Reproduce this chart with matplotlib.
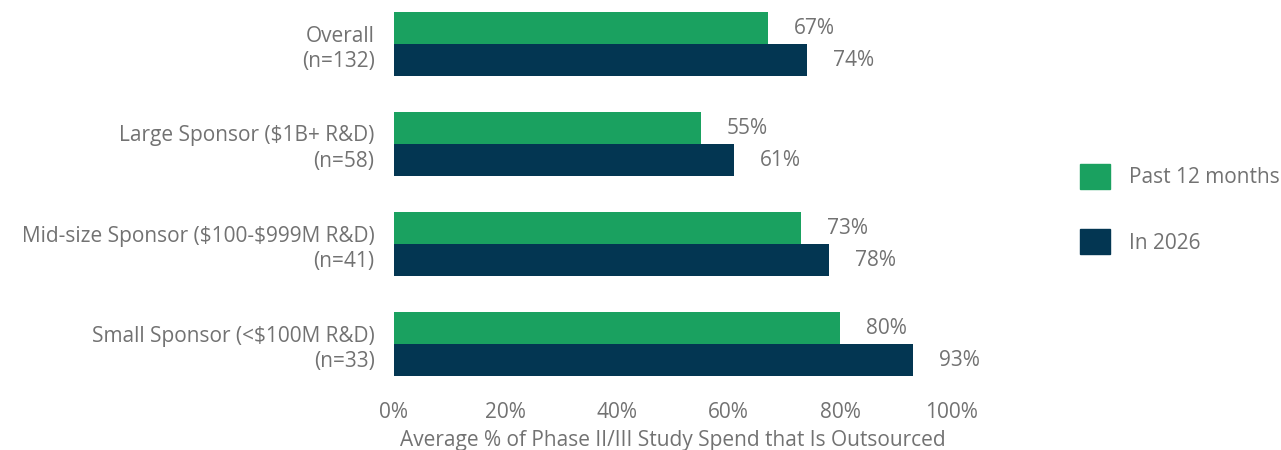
import numpy as np
import matplotlib.pyplot as plt
from matplotlib.patches import Patch

plt.rcParams['font.family'] = ['Open Sans', 'DejaVu Sans']
plt.rcParams['text.parse_math'] = False

categories = ["Overall\n(n=132)",
              "Large Sponsor ($1B+ R&D)\n(n=58)",
              "Mid-size Sponsor ($100-$999M R&D)\n(n=41)",
              "Small Sponsor (<$100M R&D)\n(n=33)"]
past_12 = [67, 55, 73, 80]
in_2026 = [74, 61, 78, 93]
series_names = ["Past 12 months", "In 2026"]
xticks = [0, 20, 40, 60, 80, 100]

green = "#1aa160"
navy = "#033652"
grey = "#727272"
fs = 15

fig = plt.figure(figsize=(12.81, 4.5), dpi=100)
ax = fig.add_axes([394 / 1281, 60 / 450, 558 / 1281, 390 / 450])

y = np.arange(len(categories))
h = 0.32
ax.barh(y - h / 2, past_12, height=h, color=green, label=series_names[0])
ax.barh(y + h / 2, in_2026, height=h, color=navy, label=series_names[1])

for yi, v in zip(y - h / 2, past_12):
    ax.text(v + 4.6, yi, f"{v}%", va="center", ha="left", fontsize=fs, color=grey)
for yi, v in zip(y + h / 2, in_2026):
    ax.text(v + 4.6, yi, f"{v}%", va="center", ha="left", fontsize=fs, color=grey)

ax.set_xlim(0, 100)
ax.set_ylim(3.46, -0.44)
ax.set_yticks(y)
ax.set_yticklabels(categories, fontsize=fs, color=grey, ha="right", linespacing=1.3)
ax.set_xticks(xticks)
ax.set_xticklabels([f"{t}%" for t in xticks], fontsize=fs, color=grey)
ax.tick_params(length=0)
ax.tick_params(axis="x", pad=9)
ax.tick_params(axis="y", pad=14)
ax.set_xlabel("Average % of Phase II/III Study Spend that Is Outsourced",
              fontsize=fs, color=grey, labelpad=5)
for s in ax.spines.values():
    s.set_visible(False)

handles = [Patch(color=green), Patch(color=navy)]
fig.legend(handles, series_names, loc="center left",
           bbox_to_anchor=(1080 / 1281, 1 - 209 / 450),
           frameon=False, fontsize=fs, handlelength=1.45, handleheight=1.45,
           labelspacing=1.95, handletextpad=0.9, borderpad=0, borderaxespad=0,
           labelcolor=grey)

fig.savefig("out.png", dpi=100)
